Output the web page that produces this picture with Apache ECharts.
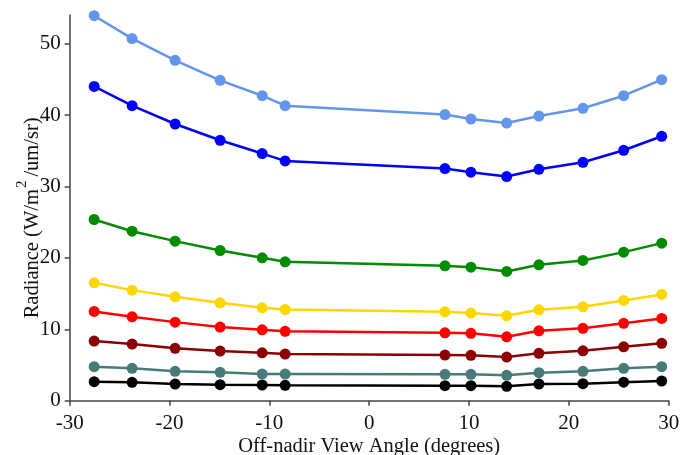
<!DOCTYPE html>
<html>
<head>
<meta charset="utf-8">
<script src="https://cdn.jsdelivr.net/npm/echarts@6/dist/echarts.min.js"></script>
<style>
  html, body { margin: 0; padding: 0; background: #fff; }
  #chart { width: 680px; height: 455px; }
</style>
</head>
<body>
<div id="chart"></div>
<script>
// View angles (degrees off nadir) shared by every band
const viewAngles = [-27.55, -23.75, -19.44, -14.93, -10.72, -8.42, 7.59, 10.19, 13.77, 17.0, 21.41, 25.49, 29.3];

// Radiance per band, top to bottom
const band1 = [53.9, 50.7, 47.65, 44.85, 42.7, 41.3, 40.06, 39.44, 38.88, 39.86, 40.94, 42.7, 44.95];
const band2 = [44.0, 41.3, 38.74, 36.46, 34.6, 33.57, 32.5, 31.99, 31.38, 32.4, 33.38, 35.06, 37.02];
const band3 = [25.37, 23.73, 22.34, 21.03, 20.0, 19.44, 18.88, 18.7, 18.1, 19.02, 19.64, 20.8, 22.06];
const band4 = [16.5, 15.48, 14.55, 13.7, 13.0, 12.78, 12.45, 12.27, 11.89, 12.73, 13.15, 14.04, 14.88];
const band5 = [12.5, 11.75, 11.0, 10.31, 9.93, 9.71, 9.51, 9.43, 8.95, 9.79, 10.13, 10.83, 11.52];
const band6 = [8.35, 7.93, 7.33, 6.95, 6.71, 6.53, 6.39, 6.35, 6.11, 6.63, 6.99, 7.55, 8.03];
const band7 = [4.76, 4.53, 4.11, 3.97, 3.73, 3.73, 3.69, 3.69, 3.55, 3.92, 4.11, 4.53, 4.76];
const band8 = [2.66, 2.57, 2.34, 2.24, 2.2, 2.15, 2.1, 2.1, 2.01, 2.34, 2.38, 2.6, 2.76];

const bands = [band1, band2, band3, band4, band5, band6, band7, band8];
const bandColors = ['#6495ED', '#0000FF', '#008B00', '#FFD700', '#FF0000', '#8B0000', '#477A78', '#000000'];

// Axis ticks
const xTicks = [-30, -20, -10, 0, 10, 20, 30];
const yTicks = [0, 10, 20, 30, 40, 50];

const FONT = '"Liberation Serif", "Times New Roman", serif';
const AXIS_COLOR = '#444';
const TEXT_COLOR = '#111';

const chart = echarts.init(document.getElementById('chart'), null, { renderer: 'canvas' });

const series = bands.map((vals, i) => ({
  type: 'line',
  data: viewAngles.map((a, j) => [a, vals[j]]),
  symbol: 'circle',
  symbolSize: 11,
  showSymbol: true,
  lineStyle: { color: bandColors[i], width: 2.5 },
  itemStyle: { color: bandColors[i], borderWidth: 0 },
  z: 10 - i,
  animation: false
}));

chart.setOption({
  backgroundColor: '#fff',
  animation: false,
  grid: {
    left: 69.7, right: 11.3, top: 15, bottom: 54.3,
    containLabel: false,
    outerBoundsMode: 'none'
  },
  xAxis: {
    type: 'value',
    min: -30,
    max: 30,
    interval: 10,
    name: 'Off-nadir View Angle (degrees)',
    nameLocation: 'middle',
    nameGap: 35,
    nameMoveOverlap: false,
    nameTextStyle: { fontFamily: FONT, fontSize: 20.5, color: TEXT_COLOR },
    axisLine: { show: true, onZero: false, lineStyle: { color: AXIS_COLOR, width: 1.5 } },
    axisTick: { show: true, inside: false, length: 5, customValues: xTicks, lineStyle: { color: AXIS_COLOR, width: 1.5 } },
    axisLabel: { fontFamily: FONT, fontSize: 21, color: TEXT_COLOR, margin: 12, customValues: xTicks },
    splitLine: { show: false }
  },
  yAxis: {
    type: 'value',
    min: 0,
    max: 54,
    name: '{t|Radiance (W/m}{s|2}{t|/um/sr)}',
    nameLocation: 'middle',
    nameGap: 27,
    nameMoveOverlap: false,
    nameRotate: 90,
    nameTextStyle: {
      fontFamily: FONT,
      fontSize: 20.5,
      color: TEXT_COLOR,
      padding: [0, 20, 0, 0],
      rich: {
        t: { fontFamily: FONT, fontSize: 20.5, color: TEXT_COLOR, lineHeight: 28, verticalAlign: 'bottom' },
        s: { fontFamily: FONT, fontSize: 15, color: TEXT_COLOR, lineHeight: 28, verticalAlign: 'top', padding: [0, 4, 0, 1] }
      }
    },
    axisLine: { show: true, onZero: false, lineStyle: { color: AXIS_COLOR, width: 1.5 } },
    axisTick: { show: true, inside: false, length: 5, customValues: yTicks, lineStyle: { color: AXIS_COLOR, width: 1.5 } },
    axisLabel: { fontFamily: FONT, fontSize: 21, color: TEXT_COLOR, margin: 9, customValues: yTicks },
    splitLine: { show: false }
  },
  series: series
});
</script>
</body>
</html>
